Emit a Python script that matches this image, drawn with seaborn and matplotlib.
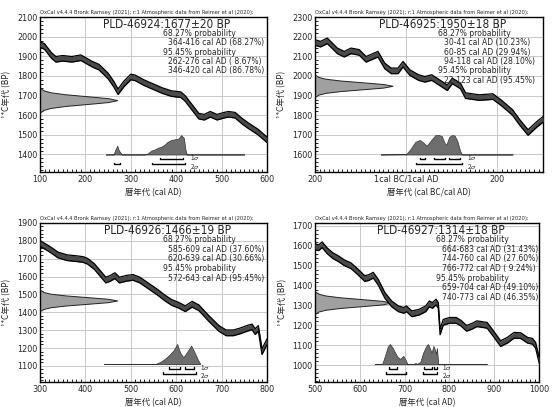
import numpy as np
import matplotlib
matplotlib.use("Agg")
import matplotlib.pyplot as plt
from matplotlib import font_manager
from matplotlib.ticker import MultipleLocator
import seaborn as sns

# ---- sample data -------------------------------------------------------
sample_ids = ["PLD-46924", "PLD-46925", "PLD-46926", "PLD-46927"]
c14_ages = [1677, 1950, 1466, 1314]
c14_errors = [20, 18, 19, 18]

# calibrated ranges (start, end, probability text)
sigma1_ranges = [
    [(364, 416, "68.27%")],
    [(30, 41, "10.23%"), (60, 85, "29.94%"), (94, 118, "28.10%")],
    [(585, 609, "37.60%"), (620, 639, "30.66%")],
    [(664, 683, "31.43%"), (744, 760, "27.60%"), (766, 772, " 9.24%")],
]
sigma2_ranges = [
    [(262, 276, " 8.67%"), (346, 420, "86.78%")],
    [(22, 123, "95.45%")],
    [(572, 643, "95.45%")],
    [(659, 704, "49.10%"), (740, 773, "46.35%")],
]

# calibration curve (cal AD, BP)
curve1_years = [100, 110, 125, 135, 150, 170, 190, 200, 215, 230, 250, 262, 272, 285, 300, 310,
                330, 350, 370, 390, 410, 420, 435, 450, 462, 475, 490, 505, 515, 530, 545, 560, 580, 600]
curve1_bp = [1960, 1950, 1905, 1885, 1890, 1885, 1893, 1880, 1860, 1845, 1800, 1760, 1720, 1760, 1795, 1790,
             1765, 1745, 1725, 1710, 1705, 1685, 1640, 1595, 1590, 1605, 1590, 1600, 1605, 1600, 1570, 1545, 1515, 1475]

curve2_years = [-200, -188, -173, -151, -136, -121, -103, -88, -62, -47, -33, -18, -7, 8, 27, 41, 56, 79,
                90, 101, 119, 130, 160, 190, 208, 233, 250, 267, 286, 300]
curve2_bp = [2171, 2162, 2179, 2128, 2111, 2128, 2120, 2085, 2111, 2051, 2026, 2026, 2060, 2017, 1992, 1983, 1992, 1957,
             1940, 1975, 1949, 1900, 1890, 1895, 1864, 1814, 1760, 1712, 1753, 1779]

curve3_years = [300, 320, 340, 360, 380, 395, 405, 420, 435, 445, 455, 465, 475, 490, 505, 520, 540, 560, 575,
                590, 605, 620, 635, 650, 672, 694, 710, 726, 740, 756, 767, 774, 781, 789, 800]
curve3_bp = [1785, 1755, 1720, 1705, 1700, 1695, 1685, 1655, 1610, 1580, 1590, 1605, 1580, 1590, 1595, 1580, 1545, 1510, 1480,
             1455, 1440, 1420, 1445, 1425, 1365, 1310, 1285, 1285, 1295, 1310, 1318, 1292, 1310, 1180, 1235]

curve4_years = [500, 508, 516, 527, 540, 552, 565, 580, 595, 611, 620, 630, 641, 656, 671, 686, 698, 704, 716,
                732, 747, 755, 762, 770, 775, 779, 786, 800, 815, 826, 838, 850, 861, 884, 898, 914, 929, 944,
                959, 974, 985, 992, 1000]
curve4_bp = [1595, 1590, 1605, 1575, 1550, 1535, 1515, 1500, 1470, 1435, 1440, 1452, 1417, 1350, 1308, 1283, 1275, 1283, 1258,
             1266, 1283, 1308, 1300, 1317, 1300, 1167, 1215, 1225, 1225, 1210, 1185, 1195, 1208, 1200, 1158, 1108, 1125, 1150,
             1148, 1125, 1120, 1100, 1025]

# calibrated probability distributions (cal AD, relative density)
prob1_years = [245, 262, 266, 270, 274, 280, 330, 337, 345, 352, 360, 367, 374, 381, 389, 396, 404, 411, 417, 420, 423, 550]
prob1_dens = [0, 0, 0.25, 0.45, 0.2, 0, 0, 0.05, 0.2, 0.25, 0.35, 0.4, 0.5, 0.65, 0.75, 0.78, 0.8, 1.0, 0.85, 0.3, 0, 0]

prob2_years = [-56, 0, 10, 20, 30, 38, 45, 55, 64, 72, 78, 84, 88, 94, 100, 106, 112, 118, 122, 233]
prob2_dens = [0, 0.02, 0.3, 0.65, 0.75, 0.6, 0.45, 0.75, 1.0, 1.0, 0.95, 0.6, 0.5, 0.9, 1.0, 0.98, 0.7, 0.2, 0, 0]

prob3_years = [441, 555, 565, 575, 585, 595, 602, 609, 616, 624, 633, 640, 648, 653]
prob3_dens = [0, 0, 0.1, 0.25, 0.45, 0.7, 1.0, 0.55, 0.33, 0.6, 0.92, 0.6, 0.2, 0]

prob4_years = [633, 650, 656, 662, 667, 672, 678, 684, 690, 697, 702, 706, 720, 724, 728, 735, 741, 747, 752,
               756, 760, 764, 767, 770, 772, 775, 883]
prob4_dens = [0, 0, 0.4, 0.85, 1.0, 0.85, 0.6, 0.35, 0.25, 0.4, 0.2, 0, 0, 0.04, 0, 0.1, 0.55, 0.85, 1.0,
              0.8, 0.55, 0.9, 0.75, 0.5, 0.8, 0, 0]

# shape of the measured date (sigma offsets, relative height)
date_offsets = [-3, -2.5, -2, -1.5, -1, -0.5, 0, 0.5, 1, 1.5, 2, 2.5, 3]
date_shape = [0.011, 0.044, 0.135, 0.325, 0.607, 0.882, 1.0, 0.882, 0.607, 0.325, 0.135, 0.044, 0.011]

curves = [(curve1_years, curve1_bp), (curve2_years, curve2_bp),
          (curve3_years, curve3_bp), (curve4_years, curve4_bp)]
probs = [(prob1_years, prob1_dens), (prob2_years, prob2_dens),
         (prob3_years, prob3_dens), (prob4_years, prob4_dens)]

# axis setup per panel
xlims = [(100, 600), (-200, 300), (300, 800), (500, 1000)]
ylims = [(1310, 2100), (1510, 2300), (1010, 1900), (915, 1715)]
xtick_sets = [[100, 200, 300, 400, 500, 600], [-200, 0, 200], [300, 400, 500, 600, 700, 800],
              [500, 600, 700, 800, 900, 1000]]
xtick_labels = [None, ["200", "1cal BC/1cal AD", "200"], None, None]
xlabels = ["暦年代 (cal AD)", "暦年代 (cal BC/cal AD)", "暦年代 (cal AD)", "暦年代 (cal AD)"]
rects = [
    [0.0716, 0.577, 0.406, 0.381],
    [0.5635, 0.577, 0.408, 0.381],
    [0.0716, 0.0614, 0.406, 0.391],
    [0.5635, 0.0614, 0.401, 0.391],
]

sns.set_theme(style="white")
plt.rcParams["font.family"] = ["Noto Sans CJK JP", "DejaVu Sans"]

# pick a narrow font if one is installed (the original uses a condensed gothic)
narrow_path = None
for f in font_manager.fontManager.ttflist:
    base = f.fname.split("/")[-1]
    if base in ("LiberationSansNarrow-Regular.ttf", "DejaVuSansCondensed.ttf"):
        narrow_path = f.fname
        break


def nfont(size):
    if narrow_path:
        return font_manager.FontProperties(fname=narrow_path, size=size)
    return font_manager.FontProperties(family="DejaVu Sans", size=size * 0.85)


fig = plt.figure(figsize=(5.59, 4.07), dpi=100)
header = "OxCal v4.4.4 Bronk Ramsey (2021); r:1 Atmospheric data from Reimer et al (2020);"

for i in range(4):
    ax = fig.add_axes(rects[i])
    x0, x1 = xlims[i]
    y0, y1 = ylims[i]
    xr, yr = x1 - x0, y1 - y0

    # grid
    ax.set_xticks(xtick_sets[i])
    ax.set_yticks(np.arange((y0 // 100 + 1) * 100, y1 + 1, 100))
    ax.grid(True, color="#c8c8c8", lw=0.7, zorder=0)

    # measured date on the y axis
    yy = c14_ages[i] + c14_errors[i] * np.array(date_offsets)
    ax.fill_betweenx(yy, x0, x0 + 0.34 * xr * np.array(date_shape), facecolor="#a0a0a0",
                     edgecolor="#222222", lw=0.7, zorder=2)

    # calibration curve
    cx = np.array(curves[i][0])
    cy = np.array(curves[i][1])
    band = 0.018 * yr
    ax.fill_between(cx, cy - band, cy + band, color="#4a4a4a", lw=0, zorder=3)
    sns.lineplot(x=cx, y=cy + band, ax=ax, color="black", lw=0.9, estimator=None, zorder=4)
    sns.lineplot(x=cx, y=cy - band, ax=ax, color="black", lw=0.9, estimator=None, zorder=4)

    # calibrated distribution
    px = np.array(probs[i][0])
    pd_ = np.array(probs[i][1])
    base = y0 + 0.114 * yr
    ax.plot([px[0], px[-1]], [base, base], color="#9a9a9a", lw=0.8, zorder=2)
    ax.fill_between(px, base, base + 0.125 * yr * pd_, facecolor="#6e6e6e",
                    edgecolor="#333333", lw=0.5, zorder=3)

    # sigma brackets
    tick = 0.012 * yr
    end = max(r[1] for r in sigma2_ranges[i])
    for level, ranges, lab, dy in [(base - 0.032 * yr, sigma1_ranges[i], r"1$\sigma$", 0.012),
                                   (base - 0.064 * yr, sigma2_ranges[i], r"2$\sigma$", -0.012)]:
        for a, b, _ in ranges:
            ax.plot([a, a, b, b], [level + tick, level, level, level + tick], color="black", lw=1.0, zorder=5)
        ax.text(end + 0.02 * xr, level + dy * yr, lab, fontsize=4.6, ha="left", va="center", zorder=5)

    # text block
    ax.text(0.56, 0.955, f"{sample_ids[i]}:{c14_ages[i]}±{c14_errors[i]} BP", transform=ax.transAxes,
            fontproperties=nfont(8.5), ha="center", va="center", zorder=6)
    lines = [("68.27% probability", 0.54)]
    lines += [(f"{a}-{b} cal AD ({p})", 0.565) for a, b, p in sigma1_ranges[i]]
    lines += [("95.45% probability", 0.54)]
    lines += [(f"{a}-{b} cal AD ({p})", 0.565) for a, b, p in sigma2_ranges[i]]
    for k, (t, xpos) in enumerate(lines):
        ax.text(xpos, 0.893 - 0.06 * k, t, transform=ax.transAxes, fontproperties=nfont(6.1),
                ha="left", va="center", zorder=6)

    ax.text(0, 1.012, header, transform=ax.transAxes, fontsize=3.7, ha="left", va="bottom",
            family=["DejaVu Sans"])

    ax.set_xlim(x0, x1)
    ax.set_ylim(y0, y1)
    if xtick_labels[i]:
        ax.set_xticklabels(xtick_labels[i])
    ax.xaxis.set_minor_locator(MultipleLocator(10))
    ax.yaxis.set_minor_locator(MultipleLocator(20))
    ax.tick_params(which="both", direction="in", pad=2)
    ax.tick_params(which="major", length=0)
    ax.tick_params(which="minor", length=2, width=0.6, color="black", bottom=True, left=True)
    for lbl in ax.get_xticklabels() + ax.get_yticklabels():
        lbl.set_fontproperties(nfont(6.5))
    for s in ax.spines.values():
        s.set_color("black")
        s.set_linewidth(1.0)
    ax.set_xlabel(xlabels[i], fontsize=6, labelpad=3)
    ax.set_ylabel("¹⁴C年代 (BP)", fontsize=6)
    ax.yaxis.set_label_coords(-0.125, 0.5)

fig.savefig("out.png", dpi=100)
